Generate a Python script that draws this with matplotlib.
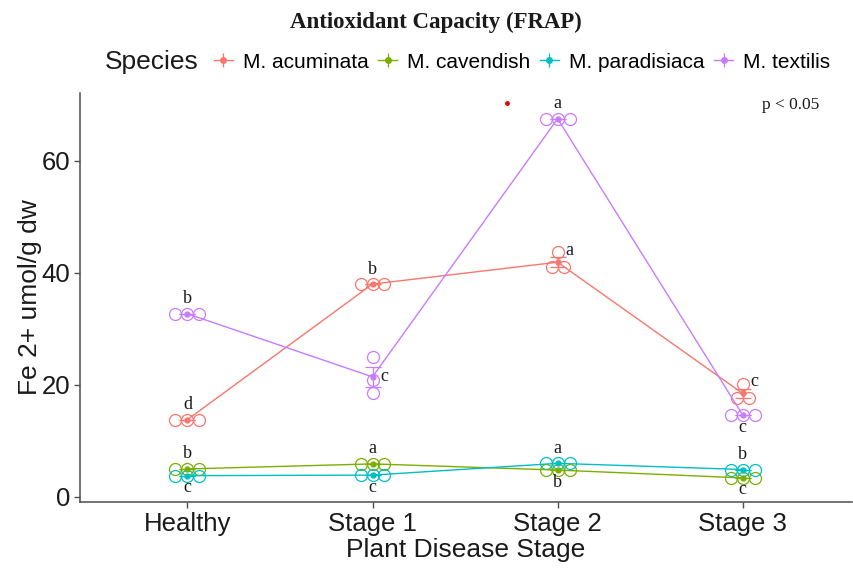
import numpy as np
import matplotlib
matplotlib.use("Agg")
import matplotlib.pyplot as plt
from matplotlib.lines import Line2D
from matplotlib.legend_handler import HandlerTuple

plt.rcParams["font.family"] = ["Liberation Sans", "DejaVu Sans"]

# ---- data -------------------------------------------------------------
stages = ["Healthy", "Stage 1", "Stage 2", "Stage 3"]
species = ["M. acuminata", "M. cavendish", "M. paradisiaca", "M. textilis"]

# three replicate FRAP measurements per stage (Fe2+ umol/g dw)
acuminata = [[13.8, 13.8, 13.8], [38.0, 38.0, 38.0], [43.7, 41.0, 41.0], [20.2, 17.6, 17.6]]
cavendish = [[5.0, 5.0, 5.0], [5.9, 5.9, 5.9], [4.8, 4.8, 4.8], [3.4, 3.4, 3.4]]
paradisiaca = [[3.8, 3.8, 3.8], [3.9, 3.9, 3.9], [6.0, 6.0, 6.0], [4.9, 4.9, 4.9]]
textilis = [[32.7, 32.7, 32.7], [24.9, 20.8, 18.6], [67.5, 67.5, 67.5], [14.6, 14.6, 14.6]]

# significance letters per stage
letters_acuminata = ["d", "b", "a", "c"]
letters_cavendish = ["b", "a", "b", "c"]
letters_paradisiaca = ["c", "c", "a", "b"]
letters_textilis = ["b", "c", "a", "c"]

y_ticks = [0, 20, 40, 60]

# ---- styling ----------------------------------------------------------
colors = ["#F8766D", "#7CAE00", "#00BFC4", "#C77CFF"]
replicates = [acuminata, cavendish, paradisiaca, textilis]
letters = [letters_acuminata, letters_cavendish, letters_paradisiaca, letters_textilis]
# where each letter sits relative to the stage mean (offset in pixels)
placement = [
    ["above", "above", "upright", "upright"],
    ["above", "above", "below", "below"],
    ["below", "below", "above", "above"],
    ["above", "right", "above", "below"],
]
offsets_px = {"above": (0, 15), "below": (0, -12), "right": (12, 0), "upright": (12, 12)}

W, H, DPI = 854, 570, 100
fig = plt.figure(figsize=(W / DPI, H / DPI), dpi=DPI)
ax_l, ax_r, ax_b, ax_t = 80, 852, 502, 93
ax = fig.add_axes([ax_l / W, 1 - ax_b / H, (ax_r - ax_l) / W, (ax_b - ax_t) / H])

xlim = (0.42, 4.59)
ylim = (-0.9, 72.1)
ax.set_xlim(*xlim)
ax.set_ylim(*ylim)

# dot-plot geometry: dot diameter equals the bin width (range / 30)
all_vals = np.concatenate([np.ravel(r) for r in replicates])
binwidth = (all_vals.max() - all_vals.min()) / 30.0
px_per_y = (ax_b - ax_t) / (ylim[1] - ylim[0])
dot_px = binwidth * px_per_y
dot_dx = dot_px * (xlim[1] - xlim[0]) / (ax_r - ax_l)
dot_ms = dot_px * 72.0 / DPI


def stack_bins(vals):
    """Group values into dot-plot bins and return (x_offset, y) per dot."""
    vals = sorted(vals)
    groups, cur = [], [vals[0]]
    for v in vals[1:]:
        if v - cur[0] < binwidth:
            cur.append(v)
        else:
            groups.append(cur)
            cur = [v]
    groups.append(cur)
    out = []
    for g in groups:
        yc = (min(g) + max(g)) / 2.0
        n = len(g)
        for k in range(n):
            out.append(((k - (n - 1) / 2.0) * dot_dx, yc))
    return out


xs = np.arange(1, len(stages) + 1)
for si, (reps, col) in enumerate(zip(replicates, colors)):
    reps = np.asarray(reps, dtype=float)
    means = reps.mean(axis=1)
    ses = reps.std(axis=1, ddof=1) / np.sqrt(reps.shape[1])

    # replicate dots
    for xi, row in zip(xs, reps):
        pts = stack_bins(row)
        ax.plot([xi + p[0] for p in pts], [p[1] for p in pts], linestyle="none",
                marker="o", ms=dot_ms, mfc="none", mec=col, mew=0.9, zorder=3)

    # mean line, error bars and mean points
    ax.plot(xs, means, color=col, lw=1.0, zorder=4)
    ax.errorbar(xs, means, yerr=ses, fmt="none", ecolor=col, elinewidth=0.9,
                capsize=5.5, capthick=0.9, zorder=4)
    ax.plot(xs, means, linestyle="none", marker="o", ms=3.5, color=col, zorder=5)

    # significance letters
    for xi, m, lab, pl in zip(xs, means, letters[si], placement[si]):
        dx, dy = offsets_px[pl]
        ax.annotate(lab, (xi, m), xytext=(dx * 72 / DPI, dy * 72 / DPI),
                    textcoords="offset points", ha="center", va="center",
                    family="Liberation Serif", fontsize=13, color="#1a1a1a", zorder=6)

# axes styling
for s in ["top", "right"]:
    ax.spines[s].set_visible(False)
for s in ["left", "bottom"]:
    ax.spines[s].set_color("#4d4d4d")
    ax.spines[s].set_linewidth(1.1)
ax.set_xticks(xs)
ax.set_xticklabels(stages)
ax.set_yticks(y_ticks)
ax.tick_params(axis="both", colors="#4d4d4d", length=4, width=1.0,
               labelsize=18.5, labelcolor="#1a1a1a", pad=3)

ax.set_xlabel("Plant Disease Stage", fontsize=19, color="#1a1a1a", labelpad=2)
ax.set_ylabel("Fe 2+ umol/g dw", fontsize=19, color="#1a1a1a", labelpad=0)

ax.text(0.92, 0.97, "p < 0.05", transform=ax.transAxes, ha="center", va="center",
        family="Liberation Serif", fontsize=12.5, color="#1a1a1a")
ax.plot([0.553], [0.976], transform=ax.transAxes, marker="o", ms=2.5, color="#e8000b",
        linestyle="none", clip_on=False)

# title
fig.text(436 / W, 1 - 22 / H, "Antioxidant Capacity (FRAP)", ha="center", va="center",
         family="Liberation Serif", fontweight="bold", fontsize=16.5, color="#1a1a1a")

# legend: key = mean point on a line segment crossed by an error bar
fig.text(105 / W, 1 - 62 / H, "Species", ha="left", va="center", fontsize=19,
         color="#1a1a1a")
handles = []
for col in colors:
    h_line = Line2D([], [], color=col, lw=1.0, marker="o", ms=4)
    h_bar = Line2D([], [], color=col, lw=0, marker="|", ms=10, mew=0.9)
    handles.append((h_line, h_bar))
fig.legend(handles, species, handler_map={tuple: HandlerTuple(ndivide=1, pad=0)},
           loc="center left", bbox_to_anchor=(214 / W, 1 - 62 / H), ncol=4,
           frameon=False, fontsize=15, handlelength=0.9, handletextpad=0.5,
           columnspacing=0.45, borderpad=0, borderaxespad=0, numpoints=1)

fig.savefig("out.png", dpi=DPI)
